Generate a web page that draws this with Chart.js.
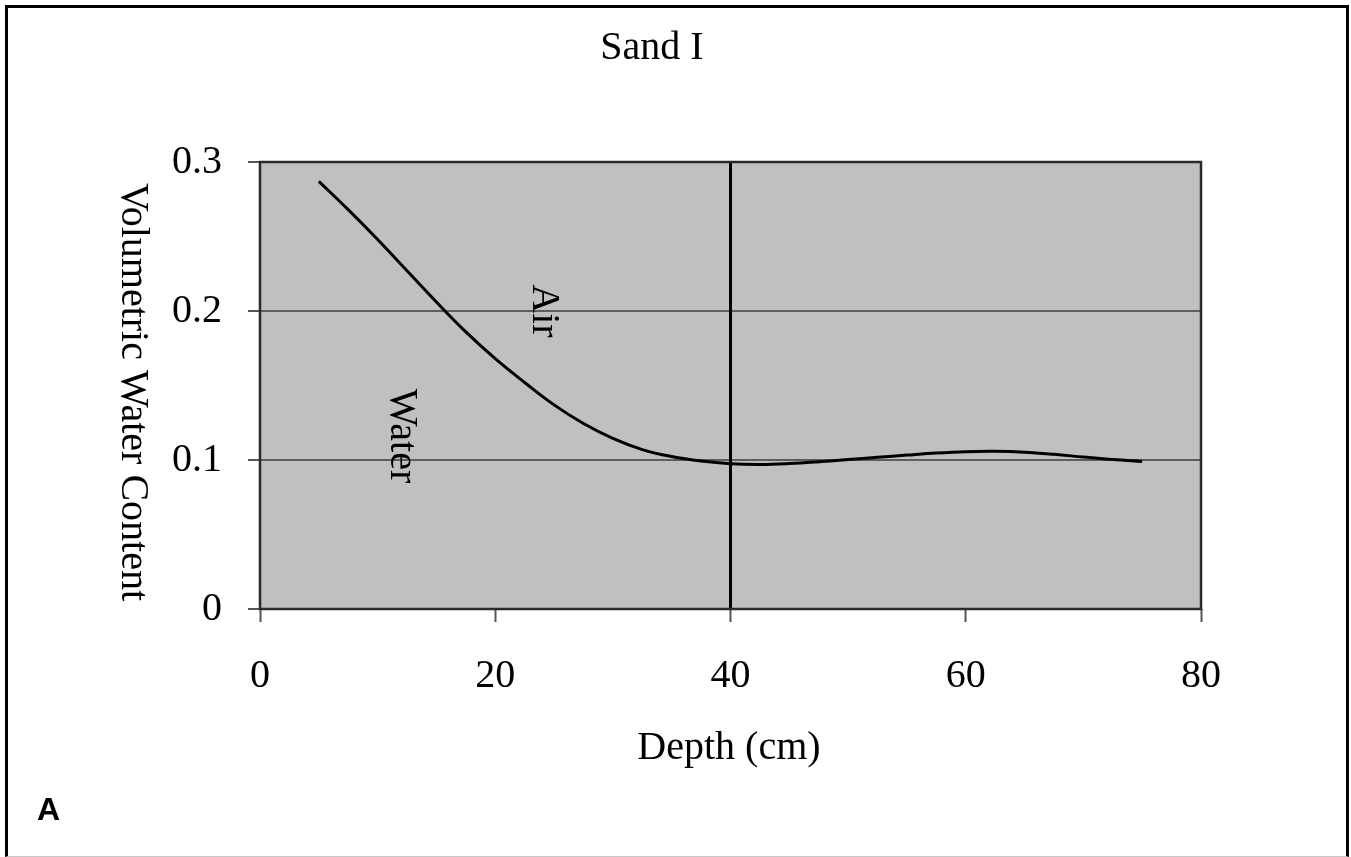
<!DOCTYPE html>
<html>
<head>
<meta charset="utf-8">
<title>Sand I</title>
<script src="https://cdn.jsdelivr.net/npm/chart.js@4.4.1/dist/chart.umd.min.js"></script>
<style>
  html, body { margin: 0; padding: 0; background: #fff; overflow: hidden; }
  #wrap { position: relative; width: 1351px; height: 857px; }
  #frame {
    position: absolute; left: 5px; top: 5px; width: 1344px; height: 852px;
    box-sizing: border-box; border: 3px solid #000; border-bottom: 1px solid #c8c8c8;
    pointer-events: none;
  }
  canvas { position: absolute; left: 0; top: 0; }
</style>
</head>
<body>
<div id="wrap">
  <canvas id="sandChart" width="1351" height="857"></canvas>
  <div id="frame"></div>
</div>
<script>
// Data
const depth = [5, 7.5, 10, 12.5, 15, 17.5, 20, 22.5, 25, 27.5, 30, 32.5, 35, 37.5, 40, 42.5, 45, 47.5, 50, 52.5, 55, 57.5, 60, 62.5, 65, 67.5, 70, 72.5, 75];
const waterContent = [0.287, 0.268, 0.248, 0.227, 0.206, 0.186, 0.168, 0.152, 0.137, 0.1245, 0.1145, 0.107, 0.1023, 0.0993, 0.0975, 0.097, 0.0976, 0.0988, 0.1003, 0.1018, 0.1033, 0.1047, 0.1056, 0.1058, 0.1052, 0.1038, 0.102, 0.1003, 0.099];
const dividerDepth = [40, 40];
const dividerValue = [0, 0.3];
const xTicks = [0, 20, 40, 60, 80];
const yTicks = [0, 0.1, 0.2, 0.3];

const serif = '"Liberation Serif", "Times New Roman", serif';

// gray plot background + border
const plotBackground = {
  id: 'plotBackground',
  beforeDraw(chart) {
    const { ctx, chartArea: a } = chart;
    ctx.save();
    ctx.fillStyle = '#c0c0c0';
    ctx.fillRect(a.left, a.top, a.right - a.left, a.bottom - a.top);
    ctx.restore();
  },
  afterDatasetsDraw(chart) {
    const { ctx, chartArea: a } = chart;
    ctx.save();
    ctx.strokeStyle = '#2a2a2a';
    ctx.lineWidth = 2.5;
    ctx.strokeRect(a.left, a.top, a.right - a.left, a.bottom - a.top);
    ctx.restore();
  }
};

// title, axis titles and the Air / Water notes
const labels = {
  id: 'labels',
  afterDraw(chart) {
    const ctx = chart.ctx;
    ctx.save();
    ctx.fillStyle = '#000';
    ctx.font = '40px ' + serif;
    ctx.textAlign = 'center';
    ctx.textBaseline = 'middle';
    ctx.fillText('Sand I', 652, 48);
    ctx.fillText('Depth (cm)', 729, 748);

    const rotated = (text, x, y) => {
      ctx.save();
      ctx.translate(x, y);
      ctx.rotate(Math.PI / 2);
      ctx.fillText(text, 0, 0);
      ctx.restore();
    };
    rotated('Volumetric Water Content', 132, 392);
    rotated('Air', 543, 311);
    rotated('Water', 401, 436);

    ctx.font = 'bold 32px "Liberation Sans", Arial, sans-serif';
    ctx.textAlign = 'left';
    ctx.textBaseline = 'alphabetic';
    ctx.fillText('A', 37, 820);
    ctx.restore();
  }
};

const ctx = document.getElementById('sandChart').getContext('2d');
const sandChart = new Chart(ctx, {
  type: 'scatter',
  data: {
    datasets: [
      {
        label: 'Sand I',
        data: depth.map((d, i) => ({ x: d, y: waterContent[i] })),
        showLine: true,
        borderColor: '#000',
        borderWidth: 3,
        pointRadius: 0,
        tension: 0.4,
        fill: false
      },
      {
        label: 'divider',
        data: dividerDepth.map((d, i) => ({ x: d, y: dividerValue[i] })),
        showLine: true,
        borderColor: '#000',
        borderWidth: 3,
        pointRadius: 0,
        fill: false
      }
    ]
  },
  options: {
    responsive: false,
    animation: false,
    layout: { padding: { left: 0, top: 162, right: 150, bottom: 0 } },
    plugins: {
      legend: { display: false },
      tooltip: { enabled: false },
      title: { display: false }
    },
    scales: {
      x: {
        type: 'linear',
        min: 0,
        max: 80,
        afterBuildTicks: (scale) => { scale.ticks = xTicks.map(v => ({ value: v })); },
        afterFit: (scale) => { scale.height = 248; },
        border: { display: false },
        grid: { drawOnChartArea: false, tickLength: 13, tickColor: '#555', tickWidth: 2 },
        ticks: {
          padding: 30,
          color: '#000',
          font: { family: serif, size: 40 }
        }
      },
      y: {
        type: 'linear',
        min: 0,
        max: 0.3,
        afterBuildTicks: (scale) => { scale.ticks = yTicks.map(v => ({ value: v })); },
        afterFit: (scale) => { scale.width = 260; },
        border: { display: false },
        grid: {
          color: (c) => (c.tick && (c.tick.value === 0 || c.tick.value === 0.3)) ? 'rgba(0,0,0,0)' : '#5e5e5e',
          lineWidth: 2,
          tickLength: 12,
          tickColor: '#555',
          tickWidth: 2
        },
        ticks: {
          padding: 26,
          color: '#000',
          font: { family: serif, size: 40 },
          callback: (v) => v === 0 ? '0' : v.toFixed(1)
        }
      }
    }
  },
  plugins: [plotBackground, labels]
});
</script>
</body>
</html>
